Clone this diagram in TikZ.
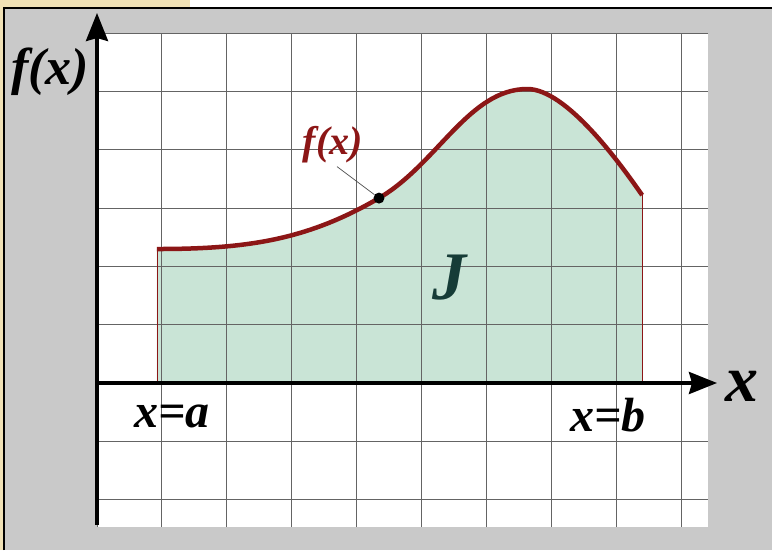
\documentclass[tikz,border=0pt]{standalone}
\usepackage{tikz}
\usetikzlibrary{arrows.meta}
\usepackage{xcolor}
\usepackage{fontspec}
\setmainfont{Liberation Serif}
\definecolor{paperbeige}{RGB}{240,225,182}
\definecolor{framegray}{RGB}{201,201,201}
\definecolor{gridgray}{RGB}{100,100,100}
\definecolor{areagreen}{RGB}{201,228,214}
\definecolor{curvered}{RGB}{140,22,22}
\definecolor{jteal}{RGB}{22,60,55}

\begin{document}
\begin{tikzpicture}[x=64.9pt,y=58.33pt,
  axis/.style={line width=3.5pt,-{Stealth[length=28pt,width=22pt,inset=3pt]}},
  gridline/.style={draw=gridgray,line width=0.9pt},
  lab/.style={inner sep=0pt,font=\bfseries\itshape}]
\useasboundingbox (-97pt,-167pt) rectangle (675pt,383pt);
\fill[white] (-97pt,-167pt) rectangle (675pt,383pt);
\fill[paperbeige] (-97pt,-167pt) rectangle (-94pt,383pt);
\fill[paperbeige] (-97pt,375pt) rectangle (93pt,383pt);
\fill[framegray] (-93pt,-167pt) rectangle (675pt,375pt);
\draw[line width=2.5pt] (-93pt,-167pt) -- (-93pt,375pt) -- (675pt,375pt);
\fill[white] (0,-2.47) rectangle (9.41,6);
% area under the curve
\coordinate (a0) at (0.924,0);
\coordinate (a1) at (0.924,2.297);
\coordinate (pk) at (6.63,5.04);
\coordinate (b0) at (8.40,0);
\coordinate (b1) at (8.40,3.22);
\coordinate (pt) at (4.345,3.17);
\fill[areagreen] (a0) -- (a1) .. controls (2.324,2.297) and (3.245,2.455) .. (pt)
  .. controls (5.245,3.755) and (5.73,5.04) .. (pk)
  .. controls (7.23,5.04) and (8.05,3.78) .. (b1) -- (b0) -- cycle;
\draw[gridline] (0,-2.47) grid[xstep=1,ystep=1] (9.41,6);
\draw[curvered,line width=0.6pt] (a0) -- (a1);
\draw[curvered,line width=0.6pt] (b0) -- (b1);
\draw[curvered,line width=4.5pt] (a1) .. controls (2.324,2.297) and (3.245,2.455) .. (pt)
  .. controls (5.245,3.755) and (5.73,5.04) .. (pk)
  .. controls (7.23,5.04) and (8.05,3.78) .. (b1);
% axes
\coordinate (o) at (0,0);
\coordinate (ytop) at (0,6.343);
\coordinate (ybot) at (0,-2.434);
\coordinate (xend) at (9.553,0);
\draw[axis] (ybot) -- (ytop);
\draw[axis] (o) -- (xend);
% labels
\node[fill=black,circle,inner sep=0pt,minimum size=11pt] (dot) at (pt) {};
\node[lab,font=\fontsize{40}{40}\selectfont\bfseries\itshape,text=curvered] (fxlab) at (3.636,4.08) {f(x)};
\draw[gray!60!black,line width=0.7pt,shorten <=5pt] (fxlab.south) -- (dot);
\node[lab,font=\fontsize{52}{52}\selectfont\bfseries\itshape] (ylab) at (-0.724,5.332) {f(x)};
\node[lab,font=\fontsize{66}{66}\selectfont\bfseries\itshape] (xlab) at (9.938,-0.05) {x};
\node[lab,font=\fontsize{48}{48}\selectfont\bfseries\itshape] (alab) at (1.156,-0.566) {x=a};
\node[lab,font=\fontsize{48}{48}\selectfont\bfseries\itshape] (blab) at (7.874,-0.549) {x=b};
\node[lab,font=\fontsize{68}{68}\selectfont\bfseries\itshape,text=jteal] (jlab) at (5.439,1.80) {J};
\end{tikzpicture}
\end{document}
